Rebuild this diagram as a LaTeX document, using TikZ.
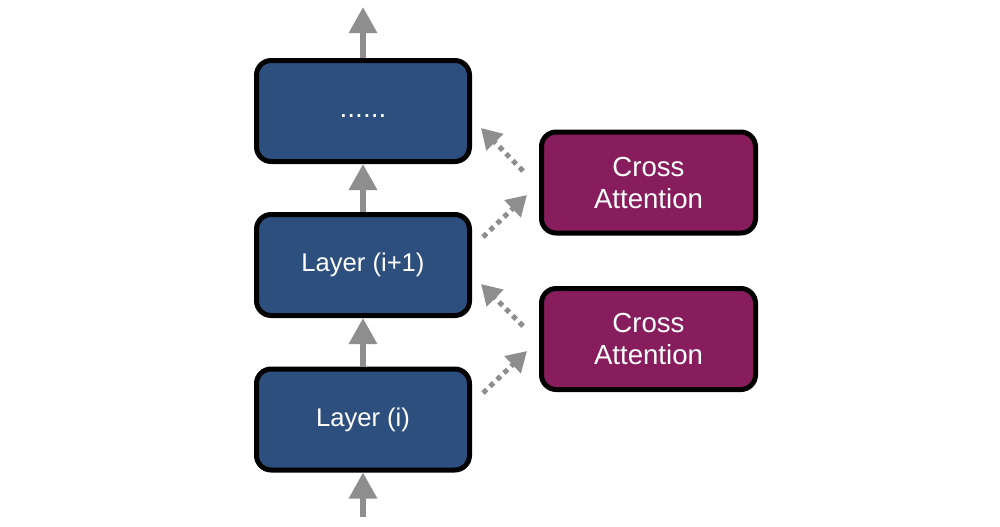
\documentclass[tikz,border=0pt]{standalone}
\usepackage{fontspec}
\setmainfont{Liberation Sans}
\usetikzlibrary{arrows.meta,calc}
\definecolor{layerblue}{HTML}{2D4F7E}
\definecolor{crosspurple}{HTML}{871D5D}
\definecolor{arrowgray}{HTML}{8E8E8E}
\tikzset{
  x=0.75pt, y=-0.75pt,
  layerbox/.style={draw=black, line width=3.75pt, fill=layerblue, rounded corners=11pt,
    minimum width=159.75pt, minimum height=75.75pt, inner sep=0pt, text=white,
    font=\fontsize{19.2pt}{24pt}\selectfont},
  crossbox/.style={draw=black, line width=3.75pt, fill=crosspurple, rounded corners=11pt,
    minimum width=160.5pt, minimum height=75.75pt, inner sep=0pt, text=white, align=center,
    font=\fontsize{20.7pt}{24pt}\selectfont},
  uparrow/.style={draw=arrowgray, line width=4.5pt, -{Triangle[width=20.25pt,length=19.5pt]}},
  dotarrow/.style={draw=arrowgray, line width=3.75pt, dash pattern=on 3.75pt off 3.5pt,
    -{Triangle[width=17pt,length=15pt]}}
}
\begin{document}
\begin{tikzpicture}
\useasboundingbox (0,0) rectangle (1000,526);
\node[layerbox, font=\fontsize{21pt}{24pt}\selectfont] (top) at (363,111) {\vphantom{Ly}......};
\node[layerbox] (mid) at (363,265) {Layer (i+1)};
\node[layerbox] (bot) at (363,419.5) {Layer (i)};
\node[crossbox] (ca1) at (648.5,182.5) {Cross\\Attention};
\node[crossbox] (ca2) at (648.5,339) {Cross\\Attention};
\coordinate (outtop) at (363,7);
\coordinate (inbot) at (363,517);
\draw[uparrow] (top.north) -- (outtop);
\draw[uparrow] (mid.north) -- (top.south);
\draw[uparrow] (bot.north) -- (mid.south);
\draw[uparrow] (inbot) -- (bot.south);
% dotted arrows
\coordinate (a1s) at (523,171);
\coordinate (a1e) at (481,128);
\coordinate (a2s) at (483,237);
\coordinate (a2e) at (527,195);
\coordinate (a3s) at (523,326);
\coordinate (a3e) at (481,284);
\coordinate (a4s) at (483,393);
\coordinate (a4e) at (527,351);
\draw[dotarrow] (a1s) -- (a1e);
\draw[dotarrow] (a2s) -- (a2e);
\draw[dotarrow] (a3s) -- (a3e);
\draw[dotarrow] (a4s) -- (a4e);
\end{tikzpicture}
\end{document}
